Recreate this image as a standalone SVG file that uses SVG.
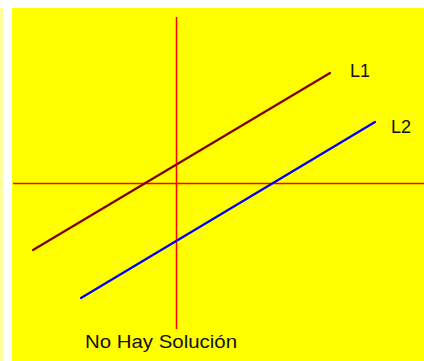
<svg xmlns="http://www.w3.org/2000/svg" width="424" height="361" viewBox="0 0 424 361">
<style>
.axis{stroke:#ff0000;stroke-width:1.5;fill:none}
.ln{stroke-width:2.2;stroke-linecap:round;fill:none}
.lbl{font-family:"Liberation Sans",Arial,sans-serif;font-size:18px;fill:#111}
</style>
<rect x="0" y="0" width="424" height="361" fill="#ffffff"/>
<rect x="0" y="8" width="3" height="353" fill="#ffff99"/>
<rect x="12" y="8" width="412" height="353" fill="#ffff00"/>
<g id="axes">
<line class="axis" x1="176.5" y1="17" x2="176.5" y2="329"/>
<line class="axis" x1="13" y1="183.5" x2="424" y2="183.5"/>
</g>
<g id="connectors">
<line id="L1-line" class="ln" stroke="#800000" x1="33" y1="250" x2="330" y2="73"/>
<line id="L2-line" class="ln" stroke="#0000ff" x1="81" y1="298" x2="375" y2="122"/>
</g>
<g id="L1"><text class="lbl" x="350" y="77">L1</text></g>
<g id="L2"><text class="lbl" x="391" y="133">L2</text></g>
<g id="caption"><text class="lbl" x="85" y="348" textLength="152" lengthAdjust="spacingAndGlyphs">No Hay Solución</text></g>
</svg>
